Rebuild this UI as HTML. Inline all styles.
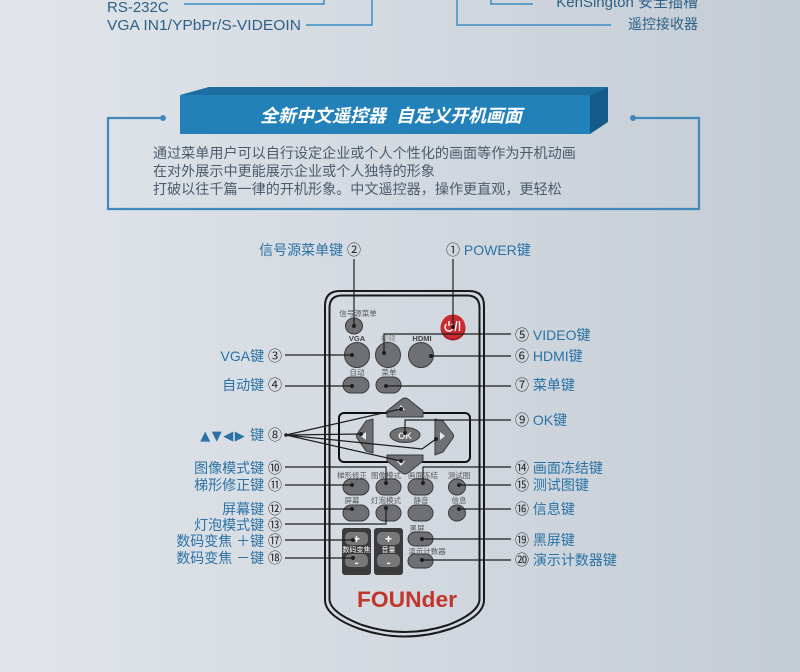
<!DOCTYPE html>
<html><head><meta charset="utf-8"><style>
html,body{margin:0;padding:0;}
body{width:800px;height:672px;overflow:hidden;background:linear-gradient(to right,#e1e5eb 0%,#d3d9e0 50%,#c4ccd4 100%);}
svg{display:block;}
</style></head><body>
<svg width="800" height="672" viewBox="0 0 800 672" xmlns="http://www.w3.org/2000/svg" font-family="'Liberation Sans','Noto Sans CJK SC',sans-serif">
<!-- top leftover section -->
<g fill="#2e6187" font-size="15">
<text x="107" y="12">RS-232C</text>
<text x="107" y="30" textLength="194" lengthAdjust="spacingAndGlyphs">VGA IN1/YPbPr/S-VIDEOIN</text>
<text x="698" y="7" text-anchor="end">KenSington 安全插槽</text>
<text x="698" y="29" text-anchor="end" font-size="14">遥控接收器</text>
</g>
<g stroke="#3a8fc4" stroke-width="1.5" fill="none">
<path d="M184,4 H324 V0"/>
<path d="M306,25 H372 V0"/>
<path d="M533,4 H491 V0"/>
<path d="M611,25 H457 V0"/>
</g>
<!-- banner box -->
<g stroke="#4189ba" stroke-width="2.2" fill="none">
<path d="M163,118 H108 V209 H699 V118 H633"/>
</g>
<circle cx="163" cy="118" r="3" fill="#4189ba"/>
<circle cx="633" cy="118" r="3" fill="#4189ba"/>
<polygon points="180,95 209,87 608,87 590,95" fill="#1b6e9f"/>
<polygon points="590,95 608,87 608,122 590,134" fill="#135b89"/>
<rect x="180" y="95" width="410" height="39" fill="#2381b9"/>
<text x="391" y="122" text-anchor="middle" fill="#fff" font-size="18" font-weight="bold" font-style="italic">全新中文遥控器&#160;&#160;自定义开机画面</text>
<g fill="#4b5b6b" font-size="14.1">
<text x="153" y="158">通过菜单用户可以自行设定企业或个人个性化的画面等作为开机动画</text>
<text x="153" y="176">在对外展示中更能展示企业或个人独特的形象</text>
<text x="153" y="194">打破以往千篇一律的开机形象。中文遥控器，操作更直观，更轻松</text>
</g>

<!-- remote outline -->
<g fill="none" stroke="#1a1a1a" stroke-width="2">
<path d="M325,600 L325,306 Q325,291 340,291 L469,291 Q484,291 484,306 L484,600 C484,612 470,622 450,629 Q405,644 360,629 C340,622 325,612 325,600 Z"/>
<path d="M329.5,599 L329.5,308 Q329.5,295.5 342,295.5 L467,295.5 Q479.5,295.5 479.5,308 L479.5,599 C479.5,609 466,618 448,625 Q405,639 362,625 C344,618 329.5,609 329.5,599 Z"/>
</g>

<!-- small labels on remote -->
<g fill="#5a5a5a" font-size="7.5" text-anchor="middle">
<text x="358" y="316">信号源菜单</text>
<text x="357" y="341" font-weight="bold" fill="#444">VGA</text>
<text x="388" y="341" fill="#8a8a8a">视频</text>
<text x="422" y="341" font-weight="bold" fill="#444">HDMI</text>
<text x="357" y="375">自动</text>
<text x="389" y="375">菜单</text>
<text x="352" y="478">梯形修正</text>
<text x="386" y="478">图像模式</text>
<text x="423" y="478">画面冻结</text>
<text x="459" y="478">测试图</text>
<text x="352" y="503">屏幕</text>
<text x="386" y="503">灯泡模式</text>
<text x="421" y="503">静音</text>
<text x="459" y="503">信息</text>
<text x="417" y="531">黑屏</text>
<text x="427" y="554">演示计数器</text>
</g>

<!-- buttons -->
<g fill="#6f7073" stroke="#3a3a3a" stroke-width="1">
<ellipse cx="354" cy="326" rx="8.5" ry="8"/>
<circle cx="357" cy="355" r="12.5"/>
<circle cx="388" cy="355" r="12.5"/>
<circle cx="421" cy="355" r="12.5"/>
<rect x="343" y="377" width="26" height="16" rx="8"/>
<rect x="376" y="377" width="25" height="16" rx="8"/>
<rect x="343" y="479" width="26" height="16" rx="8"/>
<rect x="376" y="479" width="25" height="16" rx="8"/>
<rect x="408" y="479" width="25" height="16" rx="8"/>
<ellipse cx="457" cy="487" rx="8.5" ry="8"/>
<rect x="343" y="505" width="26" height="16" rx="8"/>
<rect x="376" y="505" width="25" height="16" rx="8"/>
<rect x="408" y="505" width="25" height="16" rx="8"/>
<ellipse cx="457" cy="513" rx="8.5" ry="8"/>
<rect x="408" y="532" width="25" height="14" rx="7"/>
<rect x="408" y="554" width="25" height="14" rx="7"/>
</g>
<!-- power -->
<circle cx="453" cy="328" r="12.5" fill="#a51f24"/>
<circle cx="453" cy="326.5" r="12" fill="#cb2a31"/>
<g stroke="#fff" stroke-width="1.4" fill="none">
<path d="M446.5,324 A4,4 0 1 0 451.5,324"/>
<path d="M449,321 V326"/>
<path d="M455,331 L457,321"/>
<path d="M459.5,321 V331"/>
</g>

<!-- dpad frame -->
<rect x="339" y="413" width="131" height="49" rx="5" fill="none" stroke="#111" stroke-width="2"/>
<g fill="#6f7073" stroke="#3a3a3a" stroke-width="1" stroke-linejoin="round">
<path d="M387,417 L387,411 L402,399 Q405,397 408,399 L423,411 L423,417 Z"/>
<path d="M387,455 L387,461 L402,473 Q405,475 408,473 L423,461 L423,455 Z"/>
<path d="M373,419 L366,421 L357,434 Q356,436 357,438 L366,451 L373,453 Z"/>
<path d="M435,419 L443,421 L453,434 Q454,436 453,438 L443,452 L435,455 Z"/>
<ellipse cx="405" cy="435" rx="15" ry="7.5"/>
</g>
<g fill="#e8e8e8">
<polygon points="401,405 405,410 397,410"/>
<polygon points="397,461 405,461 401,466"/>
<polygon points="366,432 366,440 361,436"/>
<polygon points="440,432 440,440 445,436"/>
</g>
<text x="405" y="439" text-anchor="middle" fill="#eee" font-size="9" font-weight="bold">OK</text>

<!-- blocks -->
<rect x="342" y="528" width="29" height="47" rx="3" fill="#3b3b3c"/>
<rect x="374" y="528" width="29" height="47" rx="3" fill="#3b3b3c"/>
<g fill="#77787a">
<rect x="345" y="532" width="23" height="13" rx="5"/>
<rect x="345" y="554" width="23" height="13" rx="5"/>
<rect x="377" y="532" width="23" height="13" rx="5"/>
<rect x="377" y="554" width="23" height="13" rx="5"/>
</g>
<g fill="#fff" text-anchor="middle" font-weight="bold">
<text x="356.5" y="543" font-size="12">+</text>
<text x="388.5" y="543" font-size="12">+</text>
<text x="356.5" y="566" font-size="11">-</text>
<text x="388.5" y="566" font-size="11">-</text>
<text x="356.5" y="552" font-size="7" font-weight="normal">数码变焦</text>
<text x="388.5" y="552" font-size="7" font-weight="normal">音量</text>
</g>

<!-- logo -->
<text x="407" y="607" text-anchor="middle" fill="#c0362c" font-size="22" font-weight="bold" textLength="100" lengthAdjust="spacingAndGlyphs">FOUNder</text>

<!-- leader lines -->
<g stroke="#1e1e1e" stroke-width="1.2" fill="none">
<path d="M354,259 V326"/>
<path d="M453,259 V327"/>
<path d="M511,334 H384 V353"/>
<path d="M511,356 H431"/>
<path d="M285,355 H352"/>
<path d="M285,386 H352"/>
<path d="M511,386 H386"/>
<path d="M286,435 L401,409"/>
<path d="M286,435 L361,434"/>
<path d="M286,435 L401,461"/>
<path d="M286,435 L422,449 L436,439"/>
<path d="M511,420 H405 V433"/>
<path d="M285,467 H386 V483"/>
<path d="M285,485 H352"/>
<path d="M285,509 H352"/>
<path d="M285,524 H386 V508"/>
<path d="M285,540 H353"/>
<path d="M285,558 H353"/>
<path d="M511,467 H423 V483"/>
<path d="M511,485 H459"/>
<path d="M511,509 H459"/>
<path d="M511,539 H422"/>
<path d="M511,560 H422"/>
</g>
<g fill="#1e1e1e">
<circle cx="354" cy="326" r="2"/><circle cx="453" cy="327" r="2"/>
<circle cx="384" cy="353" r="2"/><circle cx="431" cy="356" r="2"/>
<circle cx="352" cy="355" r="2"/><circle cx="352" cy="386" r="2"/>
<circle cx="386" cy="386" r="2"/><circle cx="286" cy="435" r="1.8"/>
<circle cx="401" cy="409" r="2"/><circle cx="361" cy="434" r="2"/>
<circle cx="401" cy="461" r="2"/><circle cx="436" cy="439" r="2"/>
<circle cx="405" cy="433" r="2"/><circle cx="386" cy="483" r="2"/>
<circle cx="352" cy="485" r="2"/><circle cx="352" cy="509" r="2"/>
<circle cx="386" cy="508" r="2"/><circle cx="353" cy="540" r="2"/>
<circle cx="353" cy="558" r="2"/><circle cx="423" cy="483" r="2"/>
<circle cx="459" cy="485" r="2"/><circle cx="459" cy="509" r="2"/>
<circle cx="422" cy="539" r="2"/><circle cx="422" cy="560" r="2"/>
</g>

<!-- outer labels -->
<g font-size="14" fill="#2a72a5">
<text x="361" y="255" text-anchor="end">信号源菜单键 <tspan fill="#2a2a2a">②</tspan></text>
<text x="446" y="255"><tspan fill="#2a2a2a">①</tspan> POWER键</text>
<text x="282" y="361" text-anchor="end">VGA键 <tspan fill="#2a2a2a">③</tspan></text>
<text x="282" y="390" text-anchor="end">自动键 <tspan fill="#2a2a2a">④</tspan></text>
<text x="282" y="440" text-anchor="end"><tspan font-family="'DejaVu Sans',sans-serif" font-size="13" letter-spacing="1.5">▲▼◀▶</tspan> 键 <tspan fill="#2a2a2a">⑧</tspan></text>
<text x="282" y="473" text-anchor="end">图像模式键 <tspan fill="#2a2a2a">⑩</tspan></text>
<text x="282" y="490" text-anchor="end">梯形修正键 <tspan fill="#2a2a2a">⑪</tspan></text>
<text x="282" y="514" text-anchor="end">屏幕键 <tspan fill="#2a2a2a">⑫</tspan></text>
<text x="282" y="530" text-anchor="end">灯泡模式键 <tspan fill="#2a2a2a">⑬</tspan></text>
<text x="282" y="546" text-anchor="end">数码变焦 ＋键 <tspan fill="#2a2a2a">⑰</tspan></text>
<text x="282" y="563" text-anchor="end">数码变焦 －键 <tspan fill="#2a2a2a">⑱</tspan></text>
<text x="515" y="340"><tspan fill="#2a2a2a">⑤</tspan> VIDEO键</text>
<text x="515" y="361"><tspan fill="#2a2a2a">⑥</tspan> HDMI键</text>
<text x="515" y="390"><tspan fill="#2a2a2a">⑦</tspan> 菜单键</text>
<text x="515" y="425"><tspan fill="#2a2a2a">⑨</tspan> OK键</text>
<text x="515" y="473"><tspan fill="#2a2a2a">⑭</tspan> 画面冻结键</text>
<text x="515" y="490"><tspan fill="#2a2a2a">⑮</tspan> 测试图键</text>
<text x="515" y="514"><tspan fill="#2a2a2a">⑯</tspan> 信息键</text>
<text x="515" y="545"><tspan fill="#2a2a2a">⑲</tspan> 黑屏键</text>
<text x="515" y="565"><tspan fill="#2a2a2a">⑳</tspan> 演示计数器键</text>
</g>
</svg>
</body></html>
